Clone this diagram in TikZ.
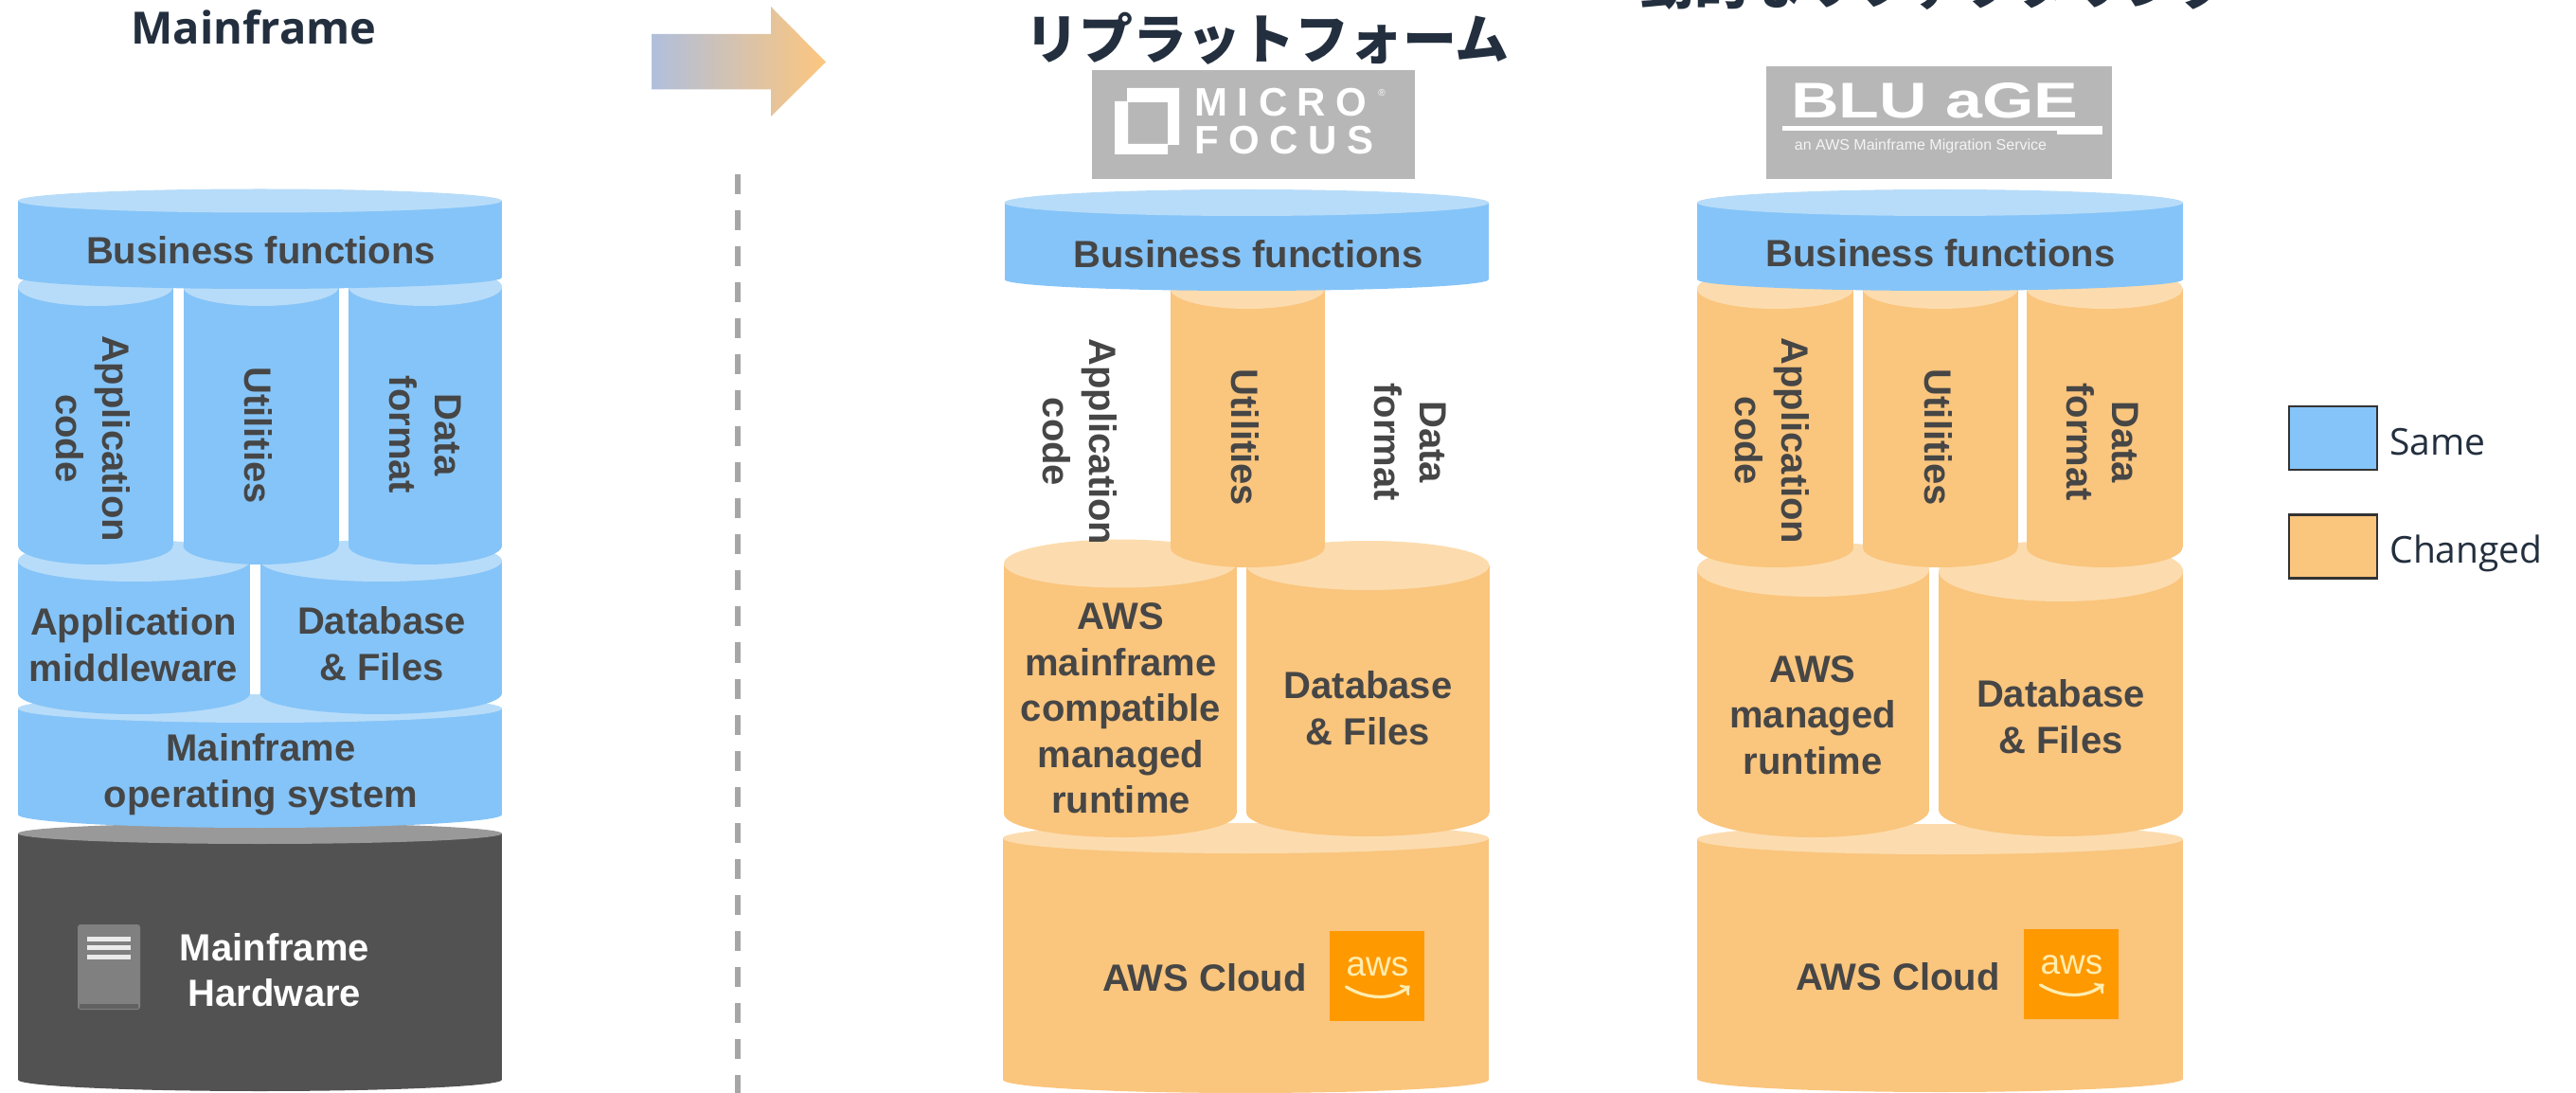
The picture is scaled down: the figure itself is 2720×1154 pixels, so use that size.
\documentclass[tikz,border=0pt]{standalone}
\usepackage{fontspec}
\setmainfont{Liberation Sans}
\newfontfamily\titlefont{Open Sans}
\newfontfamily\jpfont{Noto Sans CJK JP}
\newfontfamily\logofont[LetterSpace=25]{Liberation Sans}
\newfontfamily\bluefont[FakeStretch=1.32]{Liberation Sans}
\definecolor{bluebody}{HTML}{85C4F8}
\definecolor{bluetop}{HTML}{B7DCF9}
\definecolor{orbody}{HTML}{FAC57D}
\definecolor{ortop}{HTML}{FCDCAE}
\definecolor{darkbody}{HTML}{525252}
\definecolor{darktop}{HTML}{999999}
\definecolor{labelgray}{HTML}{464646}
\definecolor{navy}{HTML}{232F3E}
\definecolor{logogray}{HTML}{B7B7B7}
\definecolor{awsorange}{HTML}{FF9900}
\definecolor{awscream}{HTML}{FFEDB0}
\definecolor{arrowa}{HTML}{B0BFDC}
\definecolor{arrowb}{HTML}{FDC67E}
\tikzset{
  lab/.style={font=\fontsize{20}{24.3}\selectfont\bfseries,text=labelgray,align=center,inner sep=0pt},
  vlab/.style={lab,rotate=-90},
  whitelab/.style={lab,text=white},
  maintitle/.style={inner sep=0pt,text=navy},
  legendbox/.style={draw=black!80,line width=1.25pt},
  legendtext/.style={font=\titlefont\fontsize{19.5}{24}\selectfont,text=navy,inner sep=0pt,anchor=base west},
  logobox/.style={fill=logogray,draw=none},
  awsbox/.style={fill=awsorange,draw=none},
}
% fill colour, top colour, x left, x right, y top, top radius, y bottom, bottom radius
\newcommand{\cyl}[8]{%
  \pgfmathsetmacro\cylcx{(#3+#4)/2}%
  \pgfmathsetmacro\cylrx{(#4-#3)/2}%
  \fill[#1] (#3,#5) rectangle (#4,#7);
  \fill[#1] (\cylcx,#7) ellipse[x radius=\cylrx,y radius=#8];
  \fill[#2] (\cylcx,#5) ellipse[x radius=\cylrx,y radius=#6];
}
% name, x left of icon, y top of icon
\newcommand{\awsicon}[3]{%
  \node[awsbox,minimum width=50pt,minimum height=47.5pt,inner sep=0pt,anchor=north west] (#1) at (#2,#3) {};
  \node[inner sep=0pt,text=awscream,font=\fontsize{18.5}{20}\selectfont] at ([yshift=5pt]#1.center) {aws};
  \draw[awscream,line width=1.6pt,line cap=round,->] ([xshift=-16.5pt,yshift=-5.5pt]#1.center) .. controls ([xshift=-5pt,yshift=-12.5pt]#1.center) and ([xshift=8pt,yshift=-12.5pt]#1.center) .. ([xshift=17pt,yshift=-5pt]#1.center);
}
\begin{document}
\begin{tikzpicture}[x=0.5pt,y=-0.5pt]
\useasboundingbox (0,0) rectangle (2720,1154);
\clip (0,0) rectangle (2720,1154);

% ---- titles
\node[maintitle,font=\titlefont\bfseries\fontsize{23.5}{28}\selectfont] (t1) at (268,29) {Mainframe};
\node[maintitle,font=\jpfont\bfseries\fontsize{28.5}{32}\selectfont] (t2) at (1338,41) {リプラットフォーム};
\node[maintitle,font=\jpfont\bfseries\fontsize{28.5}{32}\selectfont] (t3) at (2045,-17) {動的なリファクタリング};

% ---- arrow and divider
\shade[left color=arrowa,right color=arrowb] (688,36) -- (814,36) -- (814,7) -- (872,65.5) -- (814,123) -- (814,94.5) -- (688,94.5) -- cycle;
\coordinate (d1) at (779,184.5);
\coordinate (d2) at (779,1154);
\draw[color=black!35,line width=3pt,dash pattern=on 10.5pt off 8.5pt] (d1) -- (d2);

% ---- left stack
\cyl{darkbody}{darktop}{19}{530}{880}{11}{1140}{12}
\cyl{bluebody}{bluetop}{19}{530}{748}{15}{860}{14}
\cyl{bluebody}{bluetop}{19}{264}{592}{22}{732}{22}
\cyl{bluebody}{bluetop}{274.5}{530}{592}{22}{732}{22}
\cyl{bluebody}{bluetop}{19}{182.5}{303}{20}{576}{20}
\cyl{bluebody}{bluetop}{193.5}{357.5}{303}{20}{576}{20}
\cyl{bluebody}{bluetop}{368}{530}{303}{20}{576}{20}
\cyl{bluebody}{bluetop}{19}{530}{212}{12.5}{293}{12}
\node[lab] (a1) at (275.5,264) {Business functions};
\node[vlab] (a2) at (98.5,463) {Application\\code};
\node[vlab] (a3) at (272.5,459.5) {Utilities};
\node[vlab] (a4) at (449,459) {Data\\format};
\node[lab] (a5) at (141,680.5) {Application\\middleware};
\node[lab] (a6) at (403,680) {Database\\\& Files};
\node[lab] (a7) at (275.5,818) {Mainframe\\operating system};
\node[whitelab] (a8) at (290,1024) {Mainframe\\Hardware};
\node[fill=black!50,rounded corners=1.5pt,minimum width=33pt,minimum height=45pt,inner sep=0pt] (srv) at (115,1021) {};
\fill[black!62] (84,1060) rectangle (146,1065);
\foreach \sy in {991,1000.5,1010}
  \fill[white!92!black] (92,\sy-2.5) rectangle (138,\sy+2.5);

% ---- middle stack
\node[logobox,minimum width=170.5pt,minimum height=57.5pt,inner sep=0pt,anchor=north west] (mf) at (1153,74) {};
\fill[white,even odd rule] (1190,93) -- (1245,93) -- (1245,153) -- (1233,153) -- (1233,163) -- (1177,163) -- (1177,107) -- (1190,107) -- cycle (1191,108) rectangle (1233,152);
\node[inner sep=0pt,text=white,align=left,anchor=west,font=\logofont\bfseries\fontsize{21}{20}\selectfont] (mft) at (1261,128) {MICRO\\FOCUS};
\node[inner sep=0pt,text=white,font=\fontsize{5}{6}\selectfont] (mfr) at (1459,98) {®};

\cyl{orbody}{ortop}{1059}{1572}{885}{16}{1140}{14}
\cyl{orbody}{ortop}{1060}{1305.5}{595}{25.5}{859}{25}
\cyl{orbody}{ortop}{1316}{1572.5}{597}{26}{858}{25}
\cyl{orbody}{ortop}{1236}{1398.5}{305}{21}{578}{21}
\cyl{bluebody}{bluetop}{1060.5}{1572}{214}{14}{295}{12}
\node[lab] (b1) at (1318,268) {Business functions};
\node[vlab] (b2) at (1140.5,466.5) {Application\\code};
\node[vlab] (b3) at (1315,462) {Utilities};
\node[vlab] (b4) at (1489,466.5) {Data\\format};
\node[lab] (b5) at (1183.5,748) {AWS\\mainframe\\compatible\\managed\\runtime};
\node[lab] (b6) at (1444.5,748) {Database\\\& Files};
\node[lab] (b7) at (1272,1032) {AWS Cloud};
\awsicon{b8}{1404}{983}

% ---- right stack
\node[logobox,minimum width=182.5pt,minimum height=59.5pt,inner sep=0pt,anchor=north west] (ba) at (1865,70) {};
\node[inner sep=0pt,text=white,font=\bluefont\bfseries\fontsize{26.5}{30}\selectfont] (bat) at (2043,106) {BLU aGE};
\fill[white] (1882,133) rectangle (2220,138);
\fill[white] (2172,133) rectangle (2220,142);
\node[inner sep=0pt,text=white!85!logogray,font=\fontsize{8}{9}\selectfont] (bas) at (2028,154) {an AWS Mainframe Migration Service};

\cyl{orbody}{ortop}{1792}{2305}{886}{16}{1139}{14}
\cyl{orbody}{ortop}{1792}{2037}{601}{29}{855}{29}
\cyl{orbody}{ortop}{2047}{2305}{603}{32}{855}{28}
\cyl{orbody}{ortop}{1792}{1957}{305}{21}{578}{21}
\cyl{orbody}{ortop}{1967}{2130.5}{305}{21}{578}{21}
\cyl{orbody}{ortop}{2140}{2304.5}{305}{21}{578}{21}
\cyl{bluebody}{bluetop}{1792}{2305}{214}{14}{295}{12}
\node[lab] (c1) at (2049,267) {Business functions};
\node[vlab] (c2) at (1871.5,465.5) {Application\\code};
\node[vlab] (c3) at (2046.5,462) {Utilities};
\node[vlab] (c4) at (2220,466.5) {Data\\format};
\node[lab] (c5) at (1914,755) {AWS\\managed\\runtime};
\node[lab] (c6) at (2176,757) {Database\\\& Files};
\node[lab] (c7) at (2004,1031.5) {AWS Cloud};
\awsicon{c8}{2137}{981}

% ---- legend
\node[legendbox,fill=bluebody,minimum width=46.5pt,minimum height=33.5pt,inner sep=0pt,anchor=north west] (l1) at (2415.5,428) {};
\node[legendbox,fill=orbody,minimum width=46.5pt,minimum height=33.5pt,inner sep=0pt,anchor=north west] (l2) at (2415.5,542.5) {};
\node[legendtext] (l3) at (2523,481) {Same};
\node[legendtext] (l4) at (2523,595) {Changed};
\end{tikzpicture}
\end{document}
